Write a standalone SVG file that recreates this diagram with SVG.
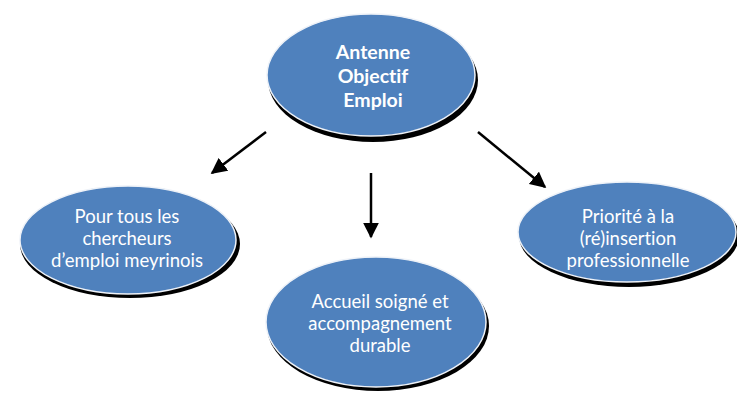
<svg xmlns="http://www.w3.org/2000/svg" width="737" height="394" viewBox="0 0 737 394">
<defs>
<style>
.sh{fill:#000}
.el{fill:#4F81BD;stroke:#eef2f8;stroke-width:1.5}
.t{font-family:Lato,"Open Sans","Liberation Sans",sans-serif;fill:#fff;text-anchor:middle;font-size:18.5px;font-variant-ligatures:none;font-feature-settings:"liga" 0,"dlig" 0}
.tb{font-weight:bold;font-size:19.5px}
.c{stroke:#000;stroke-width:2.5;fill:none;marker-end:url(#ah)}
</style>
<marker id="ah" viewBox="0 0 10 10" refX="9" refY="5" markerWidth="6.4" markerHeight="6.4" orient="auto" markerUnits="strokeWidth">
<path d="M0,0 L10,5 L0,10 z" fill="#000"/>
</marker>
</defs>
<rect width="737" height="394" fill="#fff"/>
<g id="connectors">
<line class="c" x1="266" y1="132" x2="212" y2="173"/>
<line class="c" x1="371" y1="173" x2="371" y2="237"/>
<line class="c" x1="478" y1="132" x2="545" y2="187"/>
</g>
<g id="n1">
<ellipse class="sh" cx="373" cy="80" rx="105" ry="62"/>
<ellipse class="el" cx="371" cy="75" rx="104" ry="61"/>
<text class="t tb" x="373" y="59">Antenne</text>
<text class="t tb" x="373" y="83">Objectif</text>
<text class="t tb" x="373" y="107">Emploi</text>
</g>
<g id="n2">
<ellipse class="sh" cx="130" cy="244" rx="110" ry="54"/>
<ellipse class="el" cx="128" cy="240" rx="108" ry="54"/>
<text class="t" x="127" y="223">Pour tous les</text>
<text class="t" x="127" y="245">chercheurs</text>
<text class="t" x="127" y="267">d’emploi meyrinois</text>
</g>
<g id="n3">
<ellipse class="sh" cx="629" cy="236" rx="110" ry="51"/>
<ellipse class="el" cx="627" cy="232" rx="109" ry="50"/>
<text class="t" x="628" y="223">Priorité à la</text>
<text class="t" x="628" y="245">(ré)insertion</text>
<text class="t" x="628" y="267">professionnelle</text>
</g>
<g id="n4">
<ellipse class="sh" cx="378" cy="326" rx="111" ry="65"/>
<ellipse class="el" cx="376" cy="322" rx="110" ry="65"/>
<text class="t" x="380" y="308">Accueil soigné et</text>
<text class="t" x="380" y="330">accompagnement</text>
<text class="t" x="380" y="352">durable</text>
</g>
</svg>
